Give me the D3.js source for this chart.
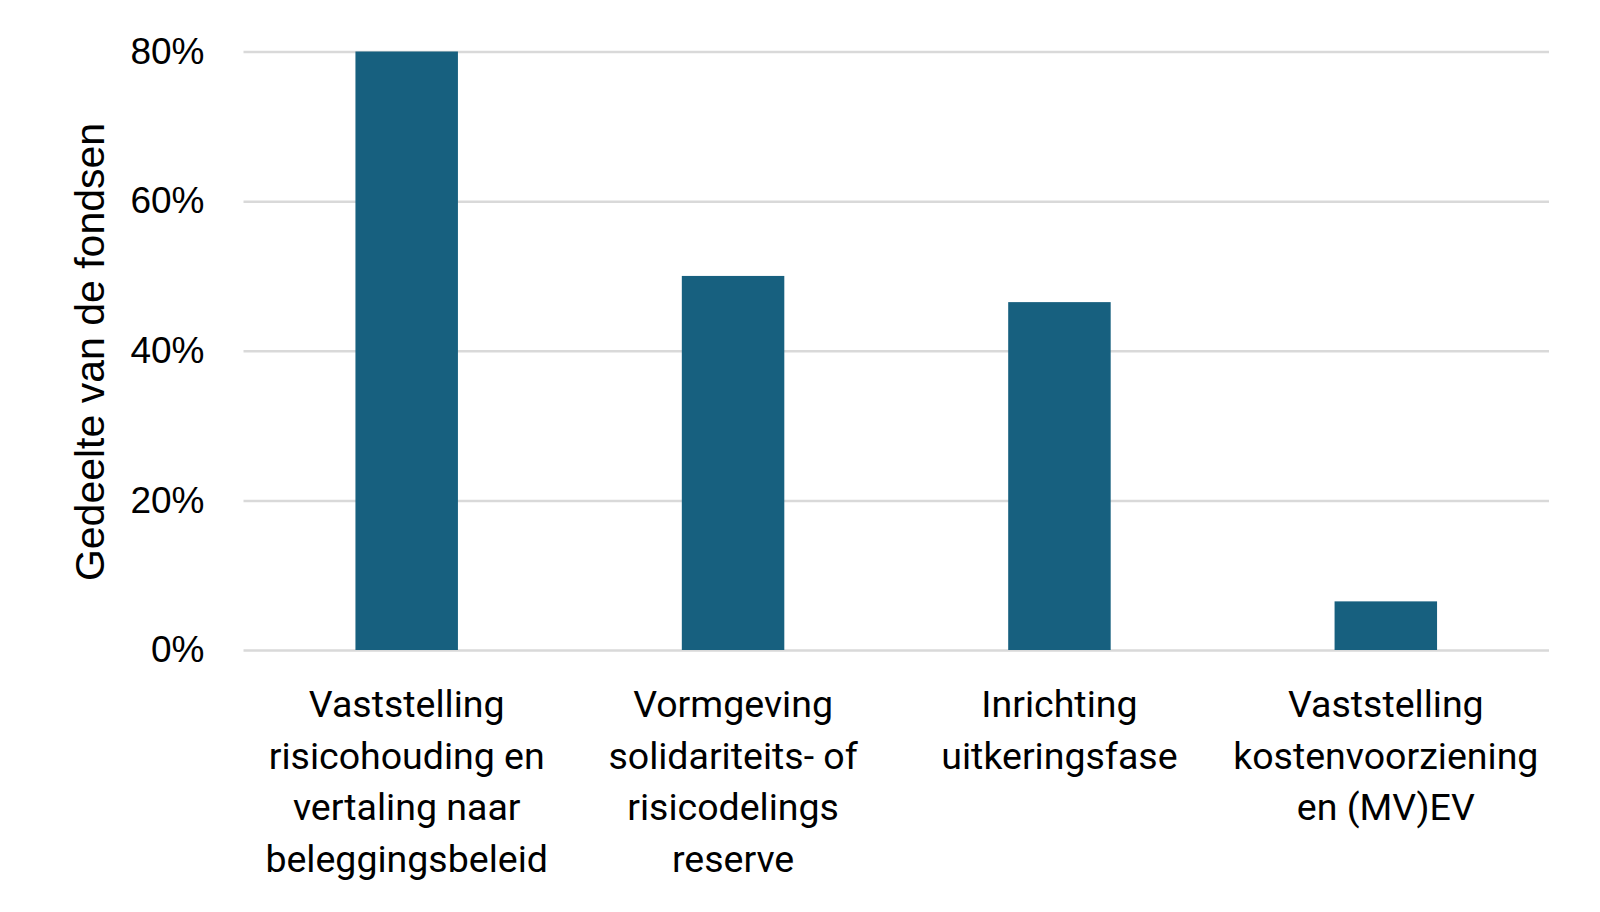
<!DOCTYPE html>
<html>
<head>
<meta charset="utf-8">
<script src="https://cdn.jsdelivr.net/npm/d3@7"></script>
<style>
  body { margin: 0; background: #fff; }
  svg { display: block; }
</style>
</head>
<body>
<svg id="chart" width="1600" height="912"></svg>
<script>
/* data */
const categories = [
  ["Vaststelling", "risicohouding en", "vertaling naar", "beleggingsbeleid"],
  ["Vormgeving", "solidariteits- of", "risicodelings", "reserve"],
  ["Inrichting", "uitkeringsfase"],
  ["Vaststelling", "kostenvoorziening", "en (MV)EV"]
];
const values   = [0.80, 0.50, 0.465, 0.065];
const yTicks   = [0, 0.2, 0.4, 0.6, 0.8];
const yLabel   = "Gedeelte van de fondsen";

/* layout */
const plotLeft = 243.5, plotRight = 1549, plotTop = 51.5, plotBottom = 650;
const barColor  = "#17607f";
const gridColor = "#d9d9d9";
const svg = d3.select("#chart");

const x = d3.scaleBand()
  .domain(d3.range(categories.length))
  .range([plotLeft, plotRight])
  .paddingInner(0.686)
  .paddingOuter(0.343);

const y = d3.scaleLinear()
  .domain([0, 0.8])
  .range([plotBottom, plotTop]);

// gridlines + tick labels
const yAxis = d3.axisLeft(y)
  .tickValues(yTicks)
  .tickSize(-(plotRight - plotLeft))
  .tickPadding(39)
  .tickFormat(d3.format(".0%"));

const gy = svg.append("g")
  .attr("transform", "translate(" + plotLeft + ",0)")
  .call(yAxis);

gy.select(".domain").remove();
gy.selectAll(".tick line")
  .attr("stroke", gridColor)
  .attr("stroke-width", 2.5);
gy.selectAll(".tick text")
  .attr("fill", "#000")
  .style("font-family", "'Liberation Sans', Arial, sans-serif")
  .style("font-size", "37px");

// bars
svg.append("g").selectAll("rect")
  .data(values)
  .enter().append("rect")
    .attr("x", (d, i) => x(i))
    .attr("y", d => y(d))
    .attr("width", x.bandwidth())
    .attr("height", d => plotBottom - y(d))
    .attr("fill", barColor);

// category labels
const labels = svg.append("g").selectAll("text")
  .data(categories)
  .enter().append("text")
    .attr("x", (d, i) => x(i) + x.bandwidth() / 2)
    .attr("y", 717)
    .attr("text-anchor", "middle")
    .style("font-family", "Roboto, sans-serif")
    .style("font-size", "37.5px")
    .attr("fill", "#000");

labels.selectAll("tspan")
  .data(d => d)
  .enter().append("tspan")
    .attr("x", function() { return d3.select(this.parentNode).attr("x"); })
    .attr("dy", (d, i) => i === 0 ? 0 : 51.5)
    .text(d => d);

// y axis title
svg.append("text")
  .attr("transform", "translate(104,352) rotate(-90)")
  .attr("text-anchor", "middle")
  .style("font-family", "'Liberation Sans', Arial, sans-serif")
  .style("font-size", "41px")
  .attr("fill", "#000")
  .text(yLabel);
</script>
</body>
</html>
